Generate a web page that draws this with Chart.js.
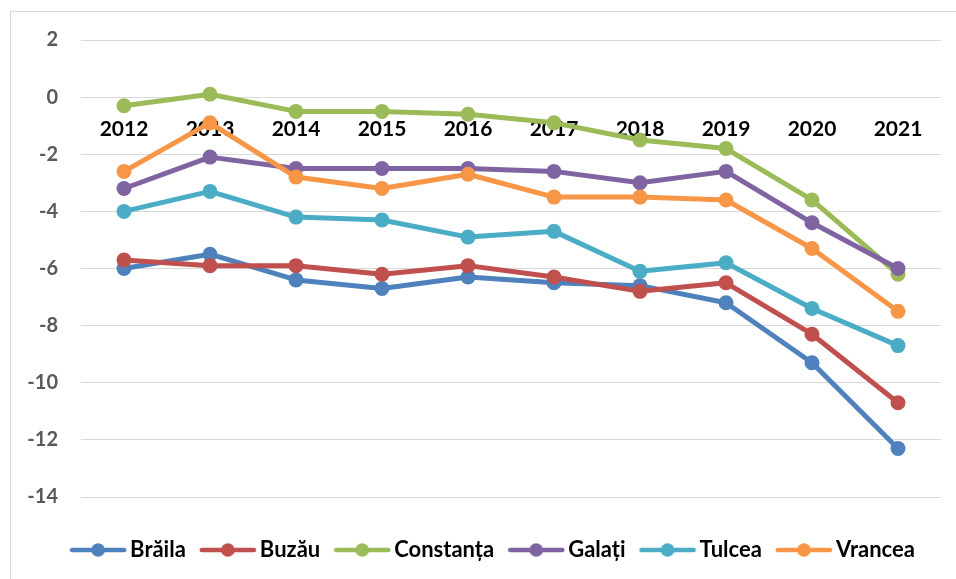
<!DOCTYPE html>
<html><head><meta charset="utf-8">
<script src="https://cdn.jsdelivr.net/npm/chart.js@4/dist/chart.umd.min.js"></script>
<style>
html,body{margin:0;padding:0;background:#fff;overflow:hidden;width:956px;height:579px;}
#frame{position:absolute;left:10px;top:11px;width:970px;height:590px;border:1px solid #d9d9d9;}
#c{display:block;}
</style></head><body>
<div id="frame"><canvas id="c" width="970" height="590"></canvas></div>
<script>
const categories = ['2012','2013','2014','2015','2016','2017','2018','2019','2020','2021'];
const seriesNames = ['Brăila','Buzău','Constanța','Galați','Tulcea','Vrancea'];
const braila    = [-6.0, -5.5, -6.4, -6.7, -6.3, -6.5, -6.6, -7.2, -9.3, -12.3];
const buzau     = [-5.7, -5.9, -5.9, -6.2, -5.9, -6.3, -6.8, -6.5, -8.3, -10.7];
const constanta = [-0.3,  0.1, -0.5, -0.5, -0.6, -0.9, -1.5, -1.8, -3.6, -6.2];
const galati    = [-3.2, -2.1, -2.5, -2.5, -2.5, -2.6, -3.0, -2.6, -4.4, -6.0];
const tulcea    = [-4.0, -3.3, -4.2, -4.3, -4.9, -4.7, -6.1, -5.8, -7.4, -8.7];
const vrancea   = [-2.6, -0.9, -2.8, -3.2, -2.7, -3.5, -3.5, -3.6, -5.3, -7.5];
const colors = ['#4F81BD','#C0504D','#9BBB59','#8064A2','#4BACC6','#F79646'];
const yTicks = {min: -14, max: 2, step: 2};

const allSeries = [braila, buzau, constanta, galati, tulcea, vrancea];
const FONT = 'Lato';

function legendMarker(color){
  const c = document.createElement('canvas');
  c.width = 58; c.height = 16;
  const g = c.getContext('2d');
  g.strokeStyle = color; g.lineWidth = 4.7; g.lineCap = 'round';
  g.beginPath(); g.moveTo(3, 8); g.lineTo(55, 8); g.stroke();
  g.fillStyle = color;
  g.beginPath(); g.arc(29, 8, 6.8, 0, Math.PI * 2); g.fill();
  return c;
}
const markers = colors.map(legendMarker);

const datasets = allSeries.map((d, i) => ({
  label: seriesNames[i],
  data: d,
  borderColor: colors[i],
  backgroundColor: colors[i],
  pointBackgroundColor: colors[i],
  pointBorderColor: colors[i],
  pointBorderWidth: 0,
  pointRadius: 7.5,
  pointHoverRadius: 7.5,
  borderWidth: 5,
  borderJoinStyle: 'round',
  borderCapStyle: 'round',
  tension: 0,
  fill: false,
  clip: false,
  order: allSeries.length - i
}));

new Chart(document.getElementById('c'), {
  type: 'line',
  data: { labels: categories, datasets },
  options: {
    responsive: false,
    animation: false,
    layout: { padding: { top: 28, left: 0, right: 0, bottom: 31 } },
    plugins: {
      tooltip: { enabled: false },
      legend: {
        display: true,
        position: 'bottom',
        align: 'center',
        labels: {
          usePointStyle: true,
          pointStyleWidth: 42,
          padding: 21,
          color: '#000',
          font: { family: FONT, weight: 'bold', size: 22 },
          generateLabels: (chart) => chart.data.datasets.map((ds, i) => ({
            text: ds.label,
            fillStyle: colors[i],
            strokeStyle: colors[i],
            lineWidth: 0,
            pointStyle: markers[i],
            hidden: false,
            datasetIndex: i,
            fontColor: '#000'
          }))
        }
      }
    },
    scales: {
      x: {
        type: 'category',
        position: { y: 0 },
        offset: true,
        z: 1,
        grid: { display: false, drawTicks: false },
        border: { display: false },
        ticks: {
          color: '#000',
          font: { family: FONT, weight: 'bold', size: 21 },
          padding: 20,
          maxRotation: 0,
          autoSkip: false
        }
      },
      gapB: {
        type: 'category',
        axis: 'x',
        position: 'bottom',
        display: true,
        grid: { display: false, drawTicks: false },
        border: { display: false },
        ticks: { display: false },
        afterFit: s => { s.height = 21; }
      },
      y: {
        type: 'linear',
        position: 'left',
        min: yTicks.min,
        max: yTicks.max,
        ticks: {
          stepSize: yTicks.step,
          color: '#595959',
          font: { family: FONT, weight: 'bold', size: 20 },
          padding: 23
        },
        grid: { color: '#d9d9d9', lineWidth: 1, drawTicks: false },
        border: { display: false },
        afterFit: s => { s.width = 70; s.paddingTop = 0; s.paddingBottom = 0; }
      },
      gapR: {
        type: 'linear',
        axis: 'y',
        position: 'right',
        display: true,
        grid: { display: false, drawTicks: false },
        border: { display: false },
        ticks: { display: false },
        afterFit: s => { s.width = 40; s.paddingTop = 0; s.paddingBottom = 0; }
      }
    }
  }
});
</script>
</body></html>
